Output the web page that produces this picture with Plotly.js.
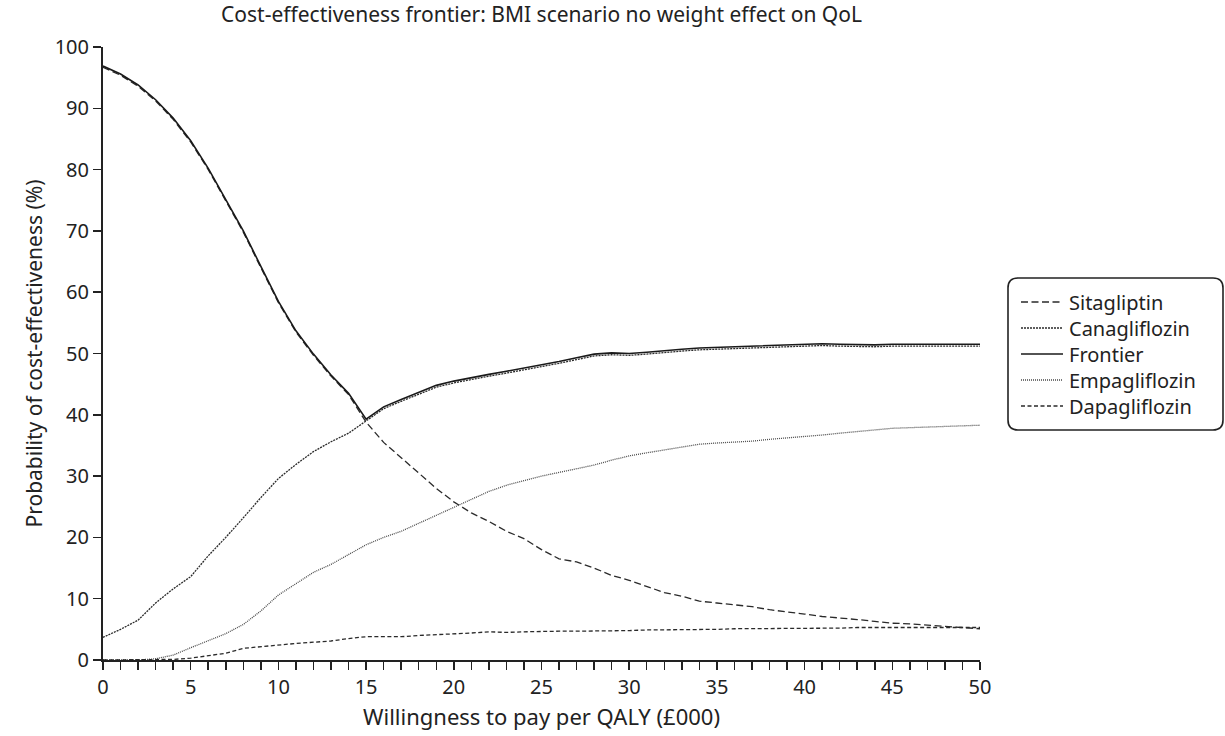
<!DOCTYPE html>
<html>
<head>
<meta charset="utf-8">
<script src="https://cdn.plot.ly/plotly-3.0.1.min.js"></script>
<style>html,body{margin:0;padding:0;background:#fff;}#chart{width:1225px;height:736px;}</style>
</head>
<body>
<div id="chart"></div>
<script>
const wtp = [0,1,2,3,4,5,6,7,8,9,10,11,12,13,14,15,16,17,18,19,20,21,22,23,24,25,26,27,28,29,30,31,32,33,34,35,36,37,38,39,40,41,42,43,44,45,46,47,48,49,50];
const sitagliptin = [96.7,95.4,93.6,91.2,88.2,84.5,80.0,75.0,69.8,64.0,58.3,53.5,49.7,46.3,43.3,38.8,35.5,33.0,30.5,28.0,25.8,24.0,22.6,21.0,19.8,18.0,16.5,16.0,15.0,13.8,13.0,12.0,11.0,10.4,9.6,9.3,9.0,8.7,8.2,7.9,7.5,7.1,6.9,6.6,6.3,6.0,5.9,5.7,5.5,5.3,5.1];
const canagliflozin = [3.7,5.0,6.5,9.3,11.6,13.6,17.0,20.0,23.2,26.5,29.6,31.9,34.0,35.6,37.0,39.0,41.0,42.2,43.4,44.5,45.2,45.8,46.3,46.8,47.3,47.8,48.4,49.0,49.6,49.8,49.7,49.9,50.2,50.4,50.6,50.7,50.8,51.0,51.1,51.2,51.3,51.3,51.2,51.1,51.1,51.2,51.2,51.1,51.1,51.1,51.2];
const frontier = [96.9,95.6,93.8,91.4,88.4,84.7,80.2,75.2,70.0,64.2,58.5,53.7,49.9,46.5,43.5,39.3,41.3,42.5,43.7,44.8,45.5,46.1,46.6,47.1,47.6,48.1,48.7,49.3,49.9,50.1,50.0,50.2,50.5,50.7,50.9,51.0,51.1,51.3,51.4,51.5,51.6,51.6,51.5,51.4,51.4,51.5,51.5,51.4,51.4,51.4,51.5];
const empagliflozin = [0,0,0,0.2,0.8,2.0,3.2,4.3,5.8,8.0,10.6,12.5,14.3,15.6,17.2,18.8,20.0,21.0,22.3,23.6,25.0,26.2,27.5,28.5,29.3,30.0,30.6,31.2,31.8,32.6,33.3,33.8,34.3,34.8,35.2,35.4,35.5,35.7,36.0,36.2,36.5,36.7,37.0,37.3,37.6,37.8,37.9,38.0,38.1,38.2,38.3];
const dapagliflozin = [0,0,0,0,0.1,0.3,0.7,1.1,1.9,2.2,2.4,2.7,2.9,3.1,3.5,3.8,3.8,3.8,4.0,4.1,4.2,4.4,4.6,4.5,4.6,4.7,4.7,4.7,4.7,4.8,4.8,4.9,4.9,4.9,5.0,5.0,5.1,5.1,5.1,5.1,5.1,5.2,5.2,5.3,5.3,5.3,5.3,5.3,5.3,5.3,5.3];
const seriesNames = ['Sitagliptin','Canagliflozin','Frontier','Empagliflozin','Dapagliflozin'];
const xTickVals = [0,5,10,15,20,25,30,35,40,45,50];
const yTickVals = [0,10,20,30,40,50,60,70,80,90,100];

const FONT = 'Noto Sans, Open Sans, sans-serif';
const INK = '#222';
const styles = [
  {color:'#2a2a2a', width:1.3, dash:'7px,3.5px'},
  {color:'#2a2a2a', width:1.3, dash:'2px,1px'},
  {color:'#1a1a1a', width:1.6},
  {color:'#4a4a4a', width:1.3, dash:'1px,1px'},
  {color:'#2a2a2a', width:1.3, dash:'4px,2.5px'}
];
const seriesData = [sitagliptin, canagliflozin, frontier, empagliflozin, dapagliflozin];
const traces = seriesData.map((ys, i) => ({
  type:'scatter', mode:'lines', x: wtp, y: ys, name: seriesNames[i],
  line: styles[i], hoverinfo:'skip', showlegend:false
}));

// plot-area geometry in px (for converting legend placement to paper coords)
const PL = 103, PR = 980, PT = 47, PB = 660;
const px2x = p => (p - PL) / (PR - PL);
const px2y = p => (PB - p) / (PB - PT);

// custom legend: rounded frame, line samples, labels
const ROW0 = 302, ROWGAP = 26;
const bx0 = px2x(1008), bx1 = px2x(1223), by1 = px2y(278), by0 = px2y(ROW0 + 4 * ROWGAP + 24);
const rx = 10 / (PR - PL), ry = 10 / (PB - PT);
const framePath = `M ${bx0+rx},${by1} L ${bx1-rx},${by1} Q ${bx1},${by1} ${bx1},${by1-ry} L ${bx1},${by0+ry} Q ${bx1},${by0} ${bx1-rx},${by0} L ${bx0+rx},${by0} Q ${bx0},${by0} ${bx0},${by0+ry} L ${bx0},${by1-ry} Q ${bx0},${by1} ${bx0+rx},${by1} Z`;
const shapes = [{type:'path', xref:'paper', yref:'paper', path: framePath, line:{color:INK, width:1.6}, fillcolor:'rgba(0,0,0,0)'}];
seriesNames.forEach((nm, i) => {
  const rowY = px2y(ROW0 + i * ROWGAP);
  shapes.push({type:'line', xref:'paper', yref:'paper', x0: px2x(1021), x1: px2x(1063), y0: rowY, y1: rowY,
    line: Object.assign({}, styles[i])});
});
const annotations = [{
  xref:'paper', yref:'paper', x: px2x(1068), y: px2y(ROW0 + 2 * ROWGAP), xanchor:'left', yanchor:'middle',
  align:'left', text: seriesNames.join('<br>'), showarrow:false, borderpad:0,
  font:{family:FONT, size:20, color:INK}
}];

const layout = {
  width: 1225, height: 736,
  margin: {l:103, r:245, t:47, b:76, pad:0},
  paper_bgcolor:'#fff', plot_bgcolor:'#fff',
  font: {family: FONT, color: INK, size:20},
  title: {text:'Cost-effectiveness frontier: BMI scenario no weight effect on QoL', font:{size:21, color:INK, family:FONT}, xref:'paper', x:0.5, xanchor:'center', y:0.99, yanchor:'top'},
  showlegend: false,
  xaxis: {
    range:[0,50], tickvals: xTickVals, ticktext: xTickVals.map(String),
    showgrid:false, zeroline:false, showline:true, linecolor:INK, linewidth:2,
    ticks:'outside', ticklen:8, tickwidth:1.5, tickcolor:INK,
    minor:{dtick:1, ticks:'outside', ticklen:8, tickwidth:1.5, tickcolor:INK, showgrid:false},
    tickfont:{size:20, color:INK},
    title:{text:'Willingness to pay per QALY (£000)', font:{size:22, color:INK}, standoff:11},
    fixedrange:true
  },
  yaxis: {
    range:[0,100], tickvals: yTickVals, ticktext: yTickVals.map(String),
    showgrid:false, zeroline:false, showline:true, linecolor:INK, linewidth:2,
    ticks:'outside', ticklen:8, tickwidth:1.5, tickcolor:INK,
    tickfont:{size:20, color:INK},
    title:{text:'Probability of cost-effectiveness (%)', font:{size:21, color:INK}, standoff:6},
    fixedrange:true
  },
  shapes: shapes,
  annotations: annotations
};

Plotly.newPlot('chart', traces, layout, {displayModeBar:false, staticPlot:true});
</script>
</body>
</html>
